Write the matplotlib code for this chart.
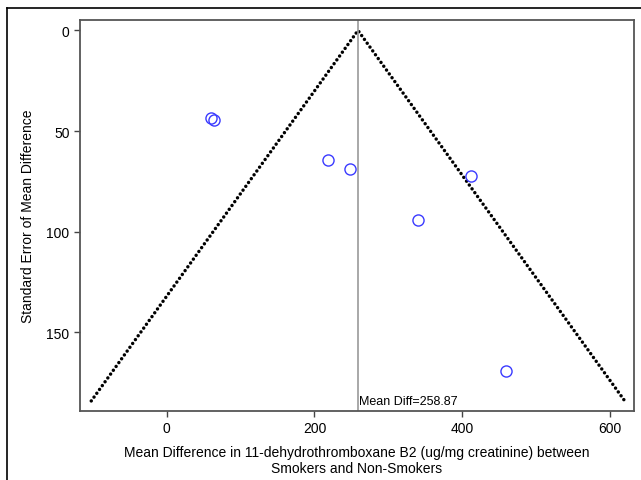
import matplotlib.pyplot as plt
from matplotlib.lines import Line2D

plt.rcParams['font.family'] = ['Liberation Sans', 'DejaVu Sans']

# Data
mean_diff = [60.1, 64.2, 218.5, 247.6, 411.5, 340.3, 458.8]
std_err = [43.6, 44.3, 64.1, 68.8, 72.2, 94.0, 168.9]
pooled = 258.87
se_max = 184.0
x_ticks = [0, 200, 400, 600]
y_ticks = [0, 50, 100, 150]

fig = plt.figure(figsize=(6.41, 4.81), dpi=100)
ax = fig.add_axes([80 / 641, 1 - 412 / 481, 554 / 641, 391 / 481])

# funnel
ax.plot([pooled - 1.96 * se_max, pooled, pooled + 1.96 * se_max], [se_max, 0, se_max],
        color='black', lw=2.5, linestyle=(0, (0.01, 1.35)), dash_capstyle='round')
ax.axvline(pooled, color='#999999', lw=1.2)
ax.plot(mean_diff, std_err, 'o', mfc='none', mec='#3a3aff', ms=8, mew=1.0)
ax.text(pooled + 2, 187, 'Mean Diff=%.2f' % pooled, fontsize=9, va='bottom', ha='left')

ax.set_xlim(-117, 632)
ax.set_ylim(189, -5.2)
ax.set_xticks(x_ticks)
ax.set_yticks(y_ticks)
ax.tick_params(direction='out', length=4, width=1, color='#444444', labelsize=10)
for s in ax.spines.values():
    s.set_color('#555555')
    s.set_linewidth(1.3)

ax.set_xlabel('Mean Difference in 11-dehydrothromboxane B2 (ug/mg creatinine) between\nSmokers and Non-Smokers',
              fontsize=10, labelpad=7, linespacing=1.2)
ax.set_ylabel('Standard Error of Mean Difference', fontsize=10, labelpad=8)

# outer frame lines (top and left)
fig.add_artist(Line2D([7 / 641, 1], [1 - 9 / 481, 1 - 9 / 481], transform=fig.transFigure, color='black', lw=1.2))
fig.add_artist(Line2D([7 / 641, 7 / 641], [0, 1 - 9 / 481], transform=fig.transFigure, color='black', lw=1.2))

fig.savefig('out.png', dpi=100)
